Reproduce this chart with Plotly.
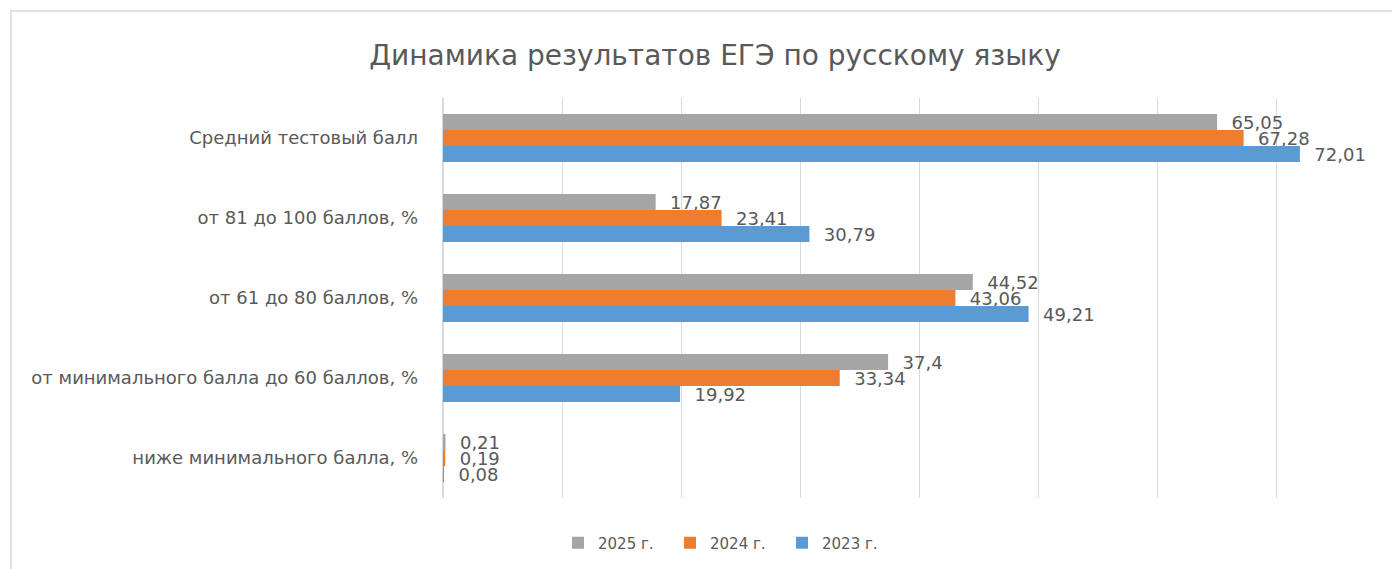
import plotly.graph_objects as go

categories = [
    "Средний тестовый балл",
    "от 81 до 100 баллов, %",
    "от 61 до 80 баллов, %",
    "от минимального балла до 60 баллов, %",
    "ниже минимального балла, %",
]
series_names = ["2025 г.", "2024 г.", "2023 г."]
values_2025 = [65.05, 17.87, 44.52, 37.4, 0.21]
values_2024 = [67.28, 23.41, 43.06, 33.34, 0.19]
values_2023 = [72.01, 30.79, 49.21, 19.92, 0.08]
colors = ["#A5A5A5", "#ED7D31", "#5B9BD5"]

def fmt(v):
    s = ("%g" % v)
    return "\u00a0\u00a0" + s.replace(".", ",")

FONT = "DejaVu Sans"
TXT = "#595959"

fig = go.Figure()
for name, vals, col in zip(series_names, [values_2025, values_2024, values_2023], colors):
    fig.add_trace(go.Bar(
        y=categories, x=vals, name=name, orientation="h",
        marker=dict(color=col, line=dict(width=0)),
        text=[fmt(v) for v in vals], textposition="outside",
        textfont=dict(family=FONT, size=18, color=TXT),
        constraintext="none", cliponaxis=False,
    ))

# page is shown with an 8px body offset
OFF = 8
W, H = 1400, 569
L, R, T, B = 443 - OFF, 1400 - (1395 - OFF), 98 - OFF, 569 - (498 - OFF)
pw, ph = W - L - R, H - T - B

def px_x(p):
    return (p - OFF - L) / pw

def px_y(p):
    return (H - B - (p - OFF)) / ph

fig.update_layout(
    width=W, height=H,
    margin=dict(l=L, r=R, t=T, b=B),
    paper_bgcolor="white", plot_bgcolor="white",
    barmode="group", bargap=0.4, bargroupgap=0,
    title=dict(text="Динамика результатов ЕГЭ по русскому языку",
               x=(715 - OFF) / W, xanchor="center", y=1 - (55 - OFF) / H, yanchor="middle",
               font=dict(family=FONT, size=28, color=TXT)),
    xaxis=dict(range=[0, 80], dtick=10, showgrid=True, gridcolor="#D9D9D9",
               gridwidth=1, showticklabels=False, zeroline=True,
               zerolinecolor="#D9D9D9", showline=False, fixedrange=True),
    yaxis=dict(autorange="reversed", showgrid=False, showline=False,
               ticks="", ticklabelstandoff=24,
               tickfont=dict(family=FONT, size=18, color=TXT)),
    legend=dict(orientation="h", x=px_x(726), xanchor="center",
                y=px_y(543), yanchor="middle", traceorder="normal",
                itemwidth=30, entrywidth=67, entrywidthmode="pixels",
                font=dict(family=FONT, size=15, color=TXT)),
    showlegend=True,
    shapes=[dict(type="rect", xref="paper", yref="paper",
                 x0=px_x(11), x1=px_x(1430), y0=px_y(620), y1=px_y(11),
                 line=dict(color="#D9D9D9", width=1.5), layer="below")],
)

fig.write_html("out.html")
